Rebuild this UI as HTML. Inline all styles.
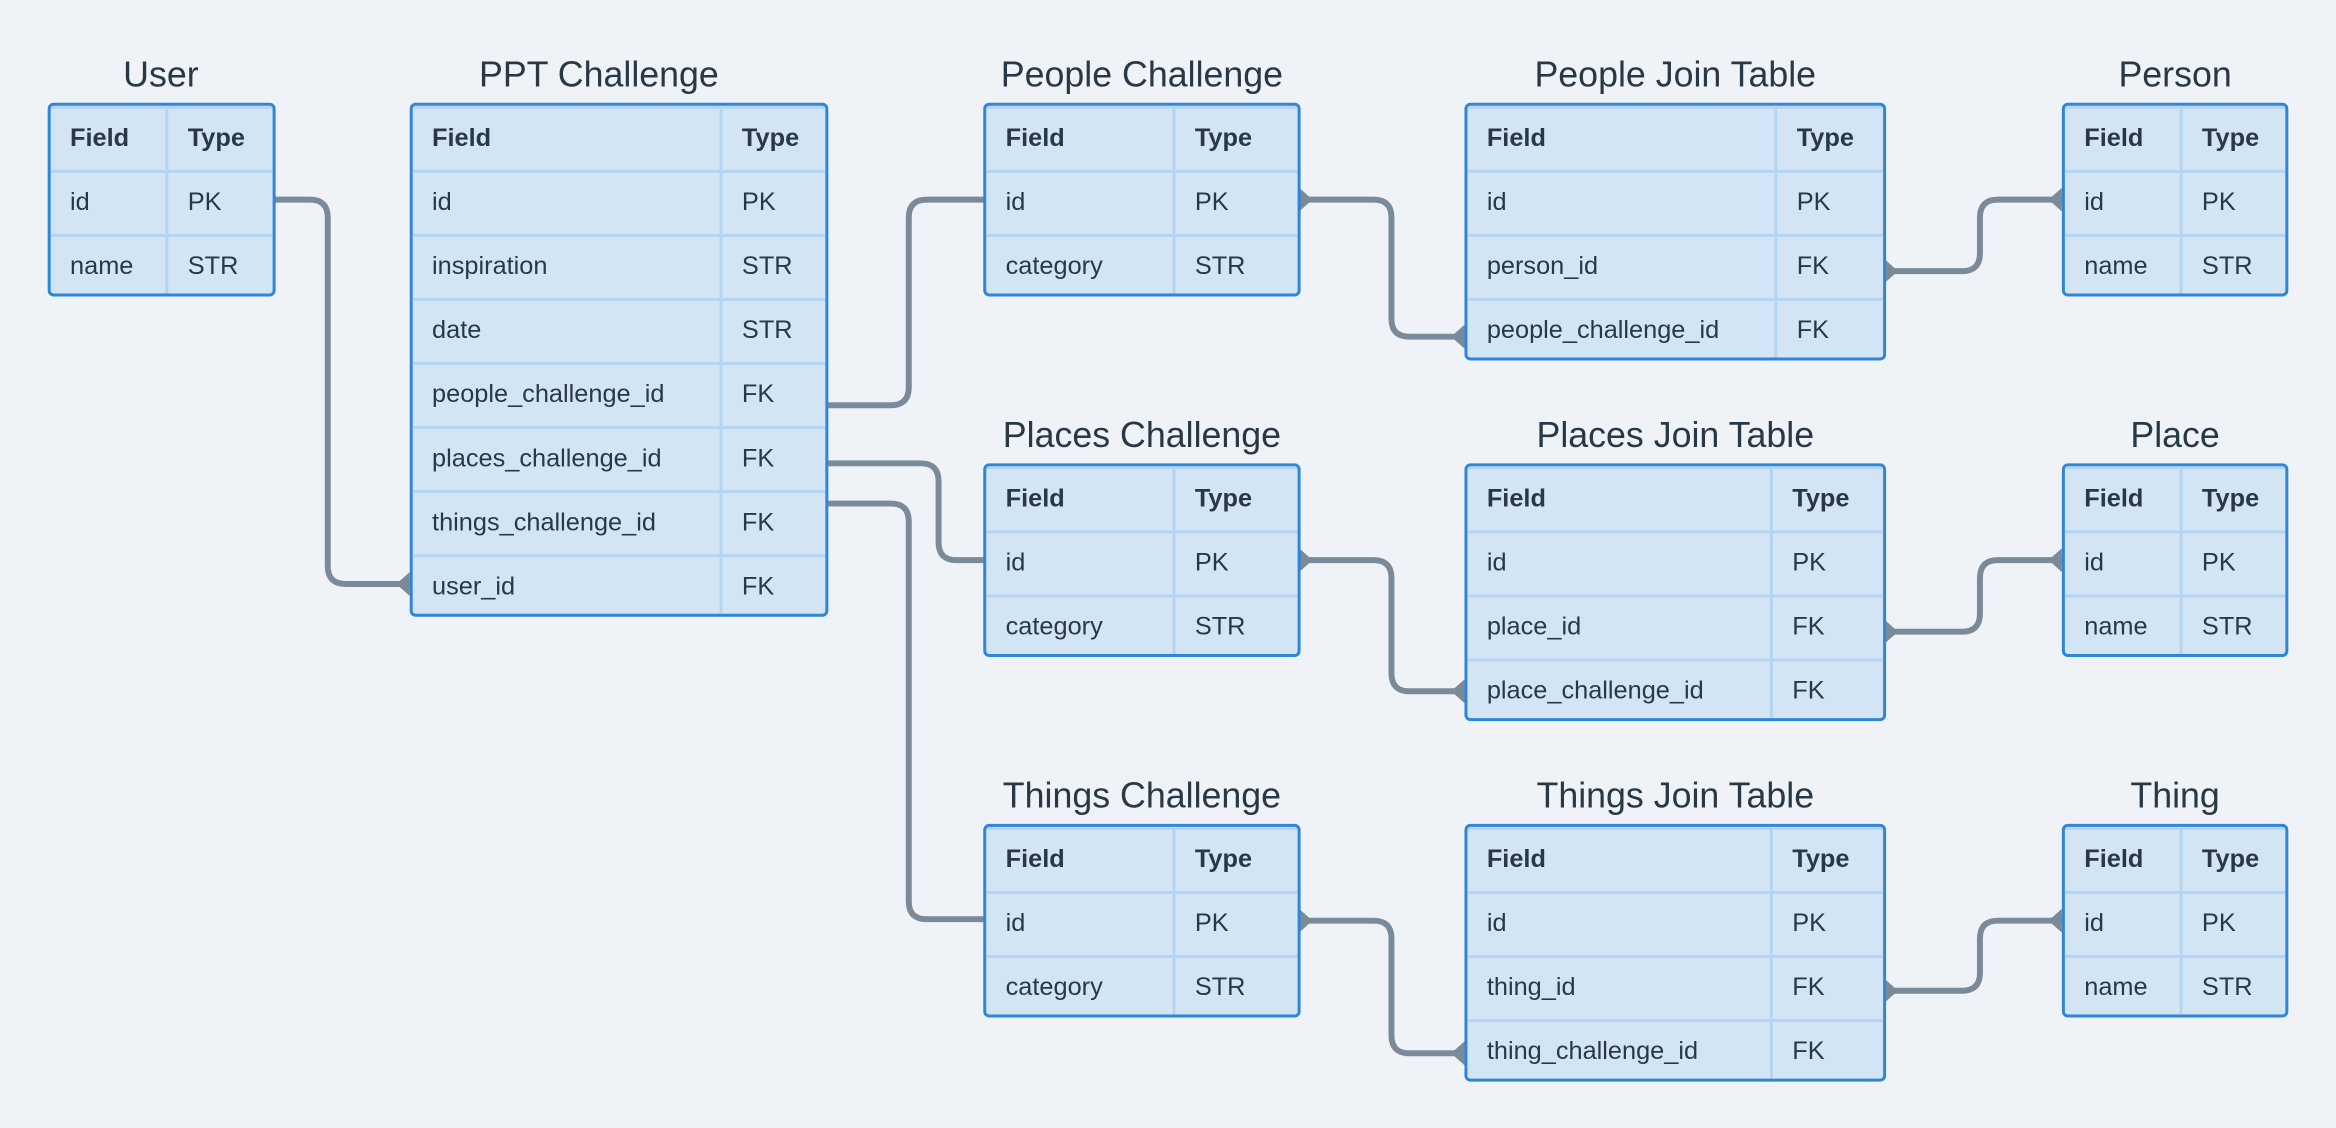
<!DOCTYPE html>
<html><head><meta charset="utf-8"><style>
html,body{margin:0;padding:0;background:#eff3f7;}
#root{position:relative;width:1568px;height:757px;transform:scale(1.4898);transform-origin:0 0;font-family:"Liberation Sans",sans-serif;color:#283847;}
.t{position:absolute;font-size:24px;text-align:center;white-space:nowrap;}
.b{position:absolute;box-sizing:border-box;border:2.5px solid #2e86d8;border-radius:4px;background:#d3e5f5;overflow:hidden;}
.r{position:relative;height:43px;border-top:2px solid #b5d4f1;box-sizing:border-box;}
.r:first-child{border-top:none;height:41px;}
.r span{position:absolute;top:-1px;line-height:41px;font-size:17px;white-space:nowrap;}
.h span{font-weight:bold;}
.v{position:absolute;top:0;bottom:0;width:2px;background:#b5d4f1;}
svg{position:absolute;left:0;top:0;}
</style></head><body><div id="root">
<svg width="1568" height="757" viewBox="0 0 1568 757">
<g fill="none" stroke="#7b8a99" stroke-width="4" stroke-linecap="round">
<path d="M184,134 H208 Q220,134 220,146 V380 Q220,392 232,392 H275"/>
<path d="M555,272 H598 Q610,272 610,260 V146 Q610,134 622,134 H660"/>
<path d="M555,311 H618 Q630,311 630,323 V364 Q630,376 642,376 H660"/>
<path d="M555,338 H598 Q610,338 610,350 V605 Q610,617 622,617 H660"/>
<path d="M872,134 H922 Q934,134 934,146 V214 Q934,226 946,226 H983"/>
<path d="M1265,182 H1317 Q1329,182 1329,170 V146 Q1329,134 1341,134 H1384"/>
<path d="M872,376 H922 Q934,376 934,388 V452 Q934,464 946,464 H983"/>
<path d="M1265,424 H1317 Q1329,424 1329,412 V388 Q1329,376 1341,376 H1384"/>
<path d="M872,618 H922 Q934,618 934,630 V695 Q934,707 946,707 H983"/>
<path d="M1265,665 H1317 Q1329,665 1329,653 V630 Q1329,618 1341,618 H1384"/>
</g>
<g fill="#7b8a99">
<polygon points="275,384 275,400 266,392"/>
<polygon points="872,126 872,142 881,134"/>
<polygon points="983,218 983,234 974,226"/>
<polygon points="1265,174 1265,190 1274,182"/>
<polygon points="1384,126 1384,142 1375,134"/>
<polygon points="872,368 872,384 881,376"/>
<polygon points="983,456 983,472 974,464"/>
<polygon points="1265,416 1265,432 1274,424"/>
<polygon points="1384,368 1384,384 1375,376"/>
<polygon points="872,610 872,626 881,618"/>
<polygon points="983,699 983,715 974,707"/>
<polygon points="1265,657 1265,673 1274,665"/>
<polygon points="1384,610 1384,626 1375,618"/>
</g>
</svg>

<div class="t" style="left:32px;width:152px;top:37px">User</div>
<div class="b" style="left:32px;top:69px;width:153px;height:130px"><div class="v" style="left:77px"></div>
<div class="r h"><span style="left:13px">Field</span><span style="left:92px">Type</span></div>
<div class="r"><span style="left:13px">id</span><span style="left:92px">PK</span></div>
<div class="r"><span style="left:13px">name</span><span style="left:92px">STR</span></div></div>

<div class="t" style="left:275px;width:254px;top:37px">PPT Challenge</div>
<div class="b" style="left:275px;top:69px;width:281px;height:345px"><div class="v" style="left:206px"></div>
<div class="r h"><span style="left:13px">Field</span><span style="left:221px">Type</span></div>
<div class="r"><span style="left:13px">id</span><span style="left:221px">PK</span></div>
<div class="r"><span style="left:13px">inspiration</span><span style="left:221px">STR</span></div>
<div class="r"><span style="left:13px">date</span><span style="left:221px">STR</span></div>
<div class="r"><span style="left:13px">people_challenge_id</span><span style="left:221px">FK</span></div>
<div class="r"><span style="left:13px">places_challenge_id</span><span style="left:221px">FK</span></div>
<div class="r"><span style="left:13px">things_challenge_id</span><span style="left:221px">FK</span></div>
<div class="r"><span style="left:13px">user_id</span><span style="left:221px">FK</span></div></div>

<div class="t" style="left:660px;width:213px;top:37px">People Challenge</div>
<div class="b" style="left:660px;top:69px;width:213px;height:130px"><div class="v" style="left:125px"></div>
<div class="r h"><span style="left:13px">Field</span><span style="left:140px">Type</span></div>
<div class="r"><span style="left:13px">id</span><span style="left:140px">PK</span></div>
<div class="r"><span style="left:13px">category</span><span style="left:140px">STR</span></div></div>

<div class="t" style="left:983px;width:283px;top:37px">People Join Table</div>
<div class="b" style="left:983px;top:69px;width:283px;height:173px"><div class="v" style="left:206px"></div>
<div class="r h"><span style="left:13px">Field</span><span style="left:221px">Type</span></div>
<div class="r"><span style="left:13px">id</span><span style="left:221px">PK</span></div>
<div class="r"><span style="left:13px">person_id</span><span style="left:221px">FK</span></div>
<div class="r"><span style="left:13px">people_challenge_id</span><span style="left:221px">FK</span></div></div>

<div class="t" style="left:1384px;width:152px;top:37px">Person</div>
<div class="b" style="left:1384px;top:69px;width:152px;height:130px"><div class="v" style="left:77px"></div>
<div class="r h"><span style="left:13px">Field</span><span style="left:92px">Type</span></div>
<div class="r"><span style="left:13px">id</span><span style="left:92px">PK</span></div>
<div class="r"><span style="left:13px">name</span><span style="left:92px">STR</span></div></div>

<div class="t" style="left:660px;width:213px;top:279px">Places Challenge</div>
<div class="b" style="left:660px;top:311px;width:213px;height:130px"><div class="v" style="left:125px"></div>
<div class="r h"><span style="left:13px">Field</span><span style="left:140px">Type</span></div>
<div class="r"><span style="left:13px">id</span><span style="left:140px">PK</span></div>
<div class="r"><span style="left:13px">category</span><span style="left:140px">STR</span></div></div>

<div class="t" style="left:983px;width:283px;top:279px">Places Join Table</div>
<div class="b" style="left:983px;top:311px;width:283px;height:173px"><div class="v" style="left:203px"></div>
<div class="r h"><span style="left:13px">Field</span><span style="left:218px">Type</span></div>
<div class="r"><span style="left:13px">id</span><span style="left:218px">PK</span></div>
<div class="r"><span style="left:13px">place_id</span><span style="left:218px">FK</span></div>
<div class="r"><span style="left:13px">place_challenge_id</span><span style="left:218px">FK</span></div></div>

<div class="t" style="left:1384px;width:152px;top:279px">Place</div>
<div class="b" style="left:1384px;top:311px;width:152px;height:130px"><div class="v" style="left:77px"></div>
<div class="r h"><span style="left:13px">Field</span><span style="left:92px">Type</span></div>
<div class="r"><span style="left:13px">id</span><span style="left:92px">PK</span></div>
<div class="r"><span style="left:13px">name</span><span style="left:92px">STR</span></div></div>

<div class="t" style="left:660px;width:213px;top:521px">Things Challenge</div>
<div class="b" style="left:660px;top:553px;width:213px;height:130px"><div class="v" style="left:125px"></div>
<div class="r h"><span style="left:13px">Field</span><span style="left:140px">Type</span></div>
<div class="r"><span style="left:13px">id</span><span style="left:140px">PK</span></div>
<div class="r"><span style="left:13px">category</span><span style="left:140px">STR</span></div></div>

<div class="t" style="left:983px;width:283px;top:521px">Things Join Table</div>
<div class="b" style="left:983px;top:553px;width:283px;height:173px"><div class="v" style="left:203px"></div>
<div class="r h"><span style="left:13px">Field</span><span style="left:218px">Type</span></div>
<div class="r"><span style="left:13px">id</span><span style="left:218px">PK</span></div>
<div class="r"><span style="left:13px">thing_id</span><span style="left:218px">FK</span></div>
<div class="r"><span style="left:13px">thing_challenge_id</span><span style="left:218px">FK</span></div></div>

<div class="t" style="left:1384px;width:152px;top:521px">Thing</div>
<div class="b" style="left:1384px;top:553px;width:152px;height:130px"><div class="v" style="left:77px"></div>
<div class="r h"><span style="left:13px">Field</span><span style="left:92px">Type</span></div>
<div class="r"><span style="left:13px">id</span><span style="left:92px">PK</span></div>
<div class="r"><span style="left:13px">name</span><span style="left:92px">STR</span></div></div>
</div></body></html>
